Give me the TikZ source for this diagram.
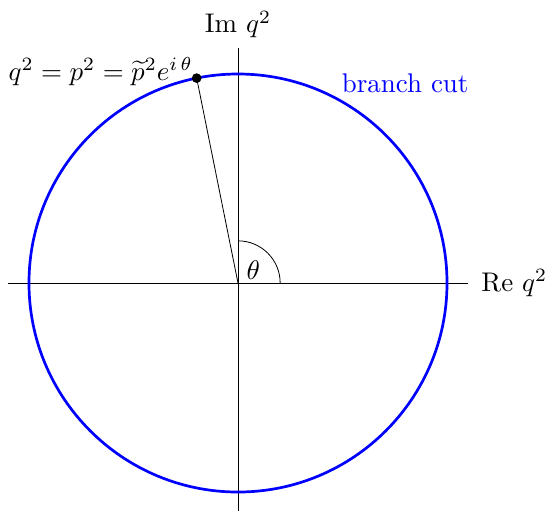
\documentclass[tikz,border=0pt]{standalone}
\usepackage{amsfonts, amssymb, amsmath}
\usepackage{tikz}

\begin{document}
\begin{tikzpicture}[
    axis/.style={line width=0.3pt},
    cut/.style={line width=1pt, blue}
  ]
    \useasboundingbox (-3.104, -2.961) rectangle (4.069, 3.691);

    % axes
    \coordinate (O) at (0, 0);
    \coordinate (xl) at (-3, 0);
    \coordinate (xr) at (3, 0);
    \coordinate (yb) at (0, -3);
    \coordinate (yt) at (0, 3.07);
    \draw[axis] (xl) -- (xr) node[right, xshift=1.5pt] {Re $q^2$};
    \draw[axis] (yb) -- (yt) node[above] {Im $q^2$};

    % circle of radius |p|^2
    \draw[cut] (O) circle (2.726);
    \node[blue] (cutlabel) at (2.18, 2.61) {branch cut};

    % point on the circle
    \coordinate (P) at (101.4:2.726);
    \draw[line width=0.3pt] (O) -- (P);
    \fill (P) circle (1.8pt);
    \node (plabel) at (-1.79, 2.76) {$q^2 = p^2 = \widetilde{p}^2 e^{i\,\theta}$};

    % angle
    \draw[line width=0.3pt] (0.55, 0) arc (0:90:0.55);
    \node (theta) at (0.2, 0.17) {$\theta$};
\end{tikzpicture}
\end{document}
